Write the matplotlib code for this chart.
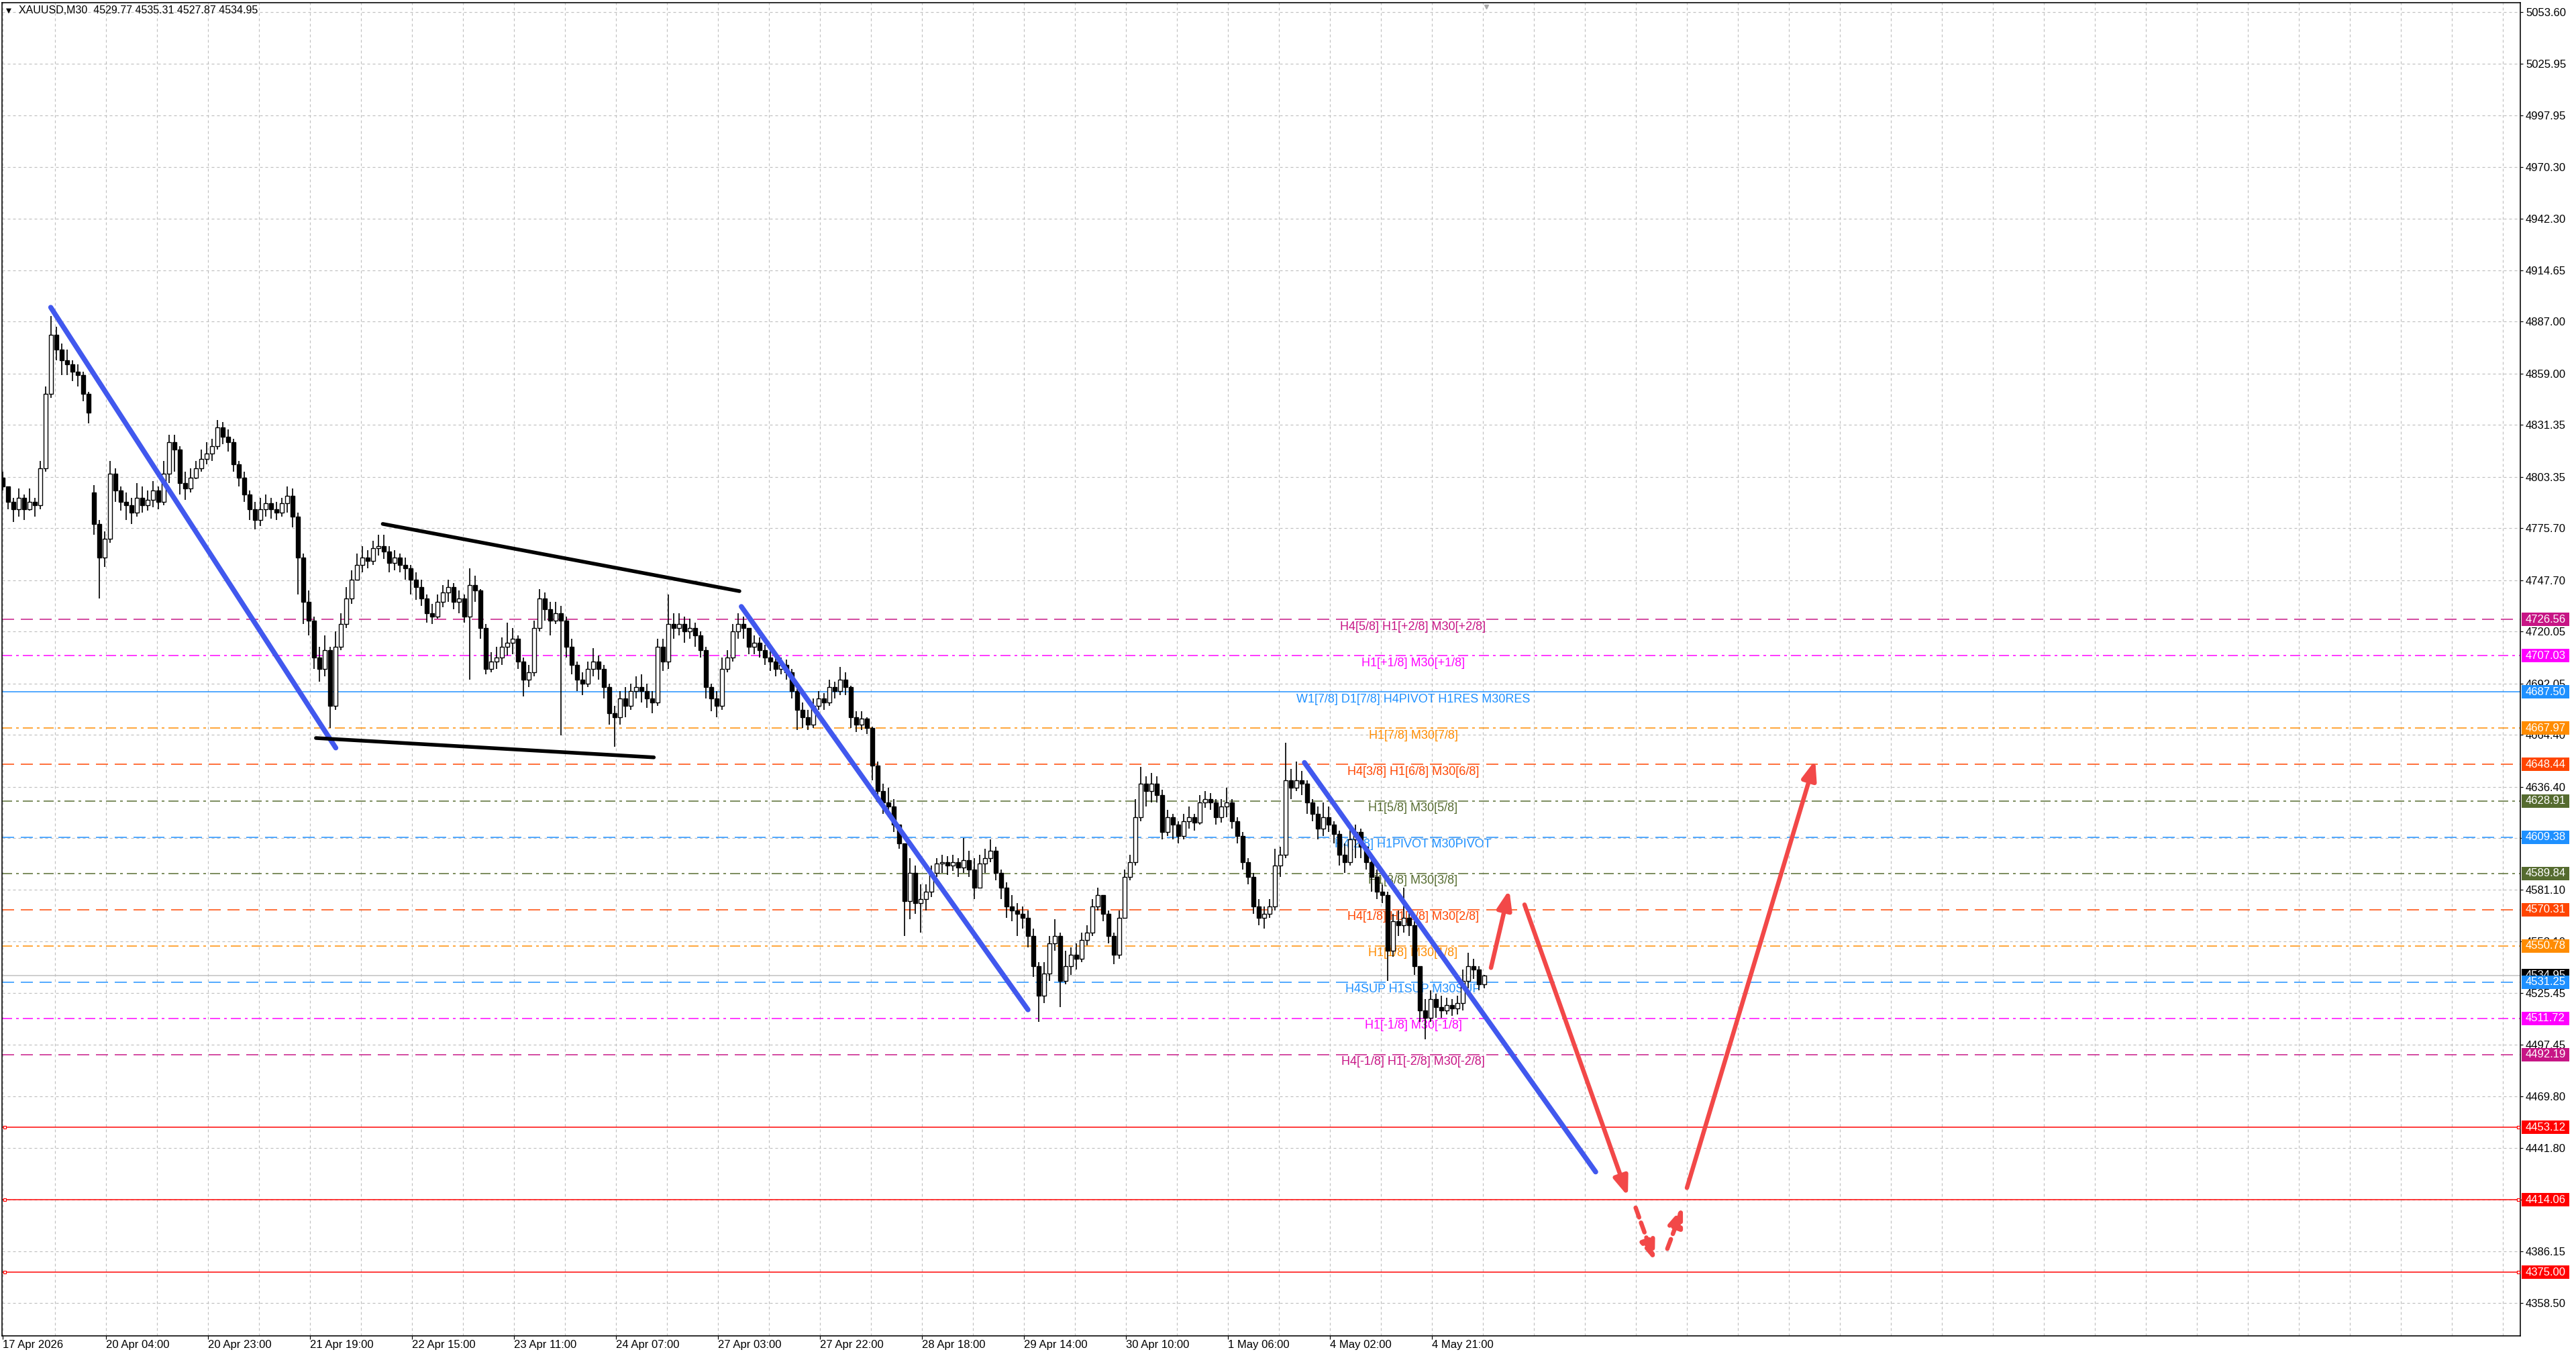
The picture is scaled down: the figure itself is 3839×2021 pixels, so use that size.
import matplotlib
matplotlib.use("Agg")
import matplotlib.pyplot as plt
from matplotlib.patches import Rectangle
from matplotlib.transforms import blended_transform_factory
import numpy as np

W, H, DPI = 3839, 2021, 100
PX = 72.0 / DPI  # points per pixel

plt.rcParams['font.family'] = ['Liberation Sans', 'DejaVu Sans']
plt.rcParams['lines.scale_dashes'] = False

# XAUUSD candles (one per hour)
closes = [4798, 4790, 4786, 4792, 4786, 4790, 4788, 4808, 4848, 4880,
          4872, 4866, 4864, 4860, 4858, 4848, 4838, 4778, 4760, 4770,
          4805, 4796, 4790, 4788, 4784, 4792, 4788, 4791, 4796, 4790,
          4805, 4822, 4818, 4800, 4797, 4803, 4808, 4813, 4816, 4820,
          4830, 4825, 4822, 4810, 4803, 4794, 4786, 4780, 4786, 4789,
          4786, 4784, 4789, 4793, 4782, 4760, 4736, 4726, 4706, 4700,
          4710, 4680, 4712, 4724, 4738, 4748, 4756, 4760, 4758, 4765,
          4766, 4763, 4757, 4760, 4756, 4754, 4748, 4744, 4738, 4730,
          4728, 4736, 4741, 4744, 4736, 4738, 4728, 4745, 4742, 4722,
          4700, 4704, 4706, 4712, 4714, 4716, 4704, 4694, 4698, 4722,
          4738, 4732, 4726, 4730, 4726, 4712, 4702, 4694, 4692, 4700,
          4704, 4700, 4690, 4676, 4674, 4684, 4680, 4688, 4690, 4688,
          4684, 4682, 4712, 4704, 4724, 4722, 4724, 4720, 4722, 4718,
          4710, 4690, 4684, 4680, 4700, 4706, 4720, 4724, 4722, 4712,
          4714, 4710, 4706, 4704, 4700, 4702, 4698, 4688, 4678, 4674,
          4670, 4680, 4684, 4682, 4690, 4688, 4694, 4690, 4674, 4670,
          4673, 4668, 4648, 4634, 4628, 4626, 4616, 4606, 4575, 4590,
          4574, 4576, 4580, 4590, 4595, 4596, 4594, 4596, 4593, 4597,
          4592, 4582, 4595, 4598, 4602, 4590, 4582, 4572, 4570, 4568,
          4566, 4556, 4540, 4524, 4536, 4552, 4556, 4532, 4540, 4546,
          4544, 4554, 4558, 4572, 4578, 4568, 4556, 4546, 4566, 4588,
          4596, 4620, 4638, 4634, 4638, 4632, 4612, 4620, 4616, 4610,
          4618, 4620, 4617, 4628, 4630, 4628, 4620, 4626, 4628, 4618,
          4610, 4596, 4588, 4572, 4566, 4568, 4572, 4594, 4600, 4640,
          4636, 4640, 4638, 4628, 4622, 4614, 4620, 4616, 4611, 4600,
          4596, 4608, 4612, 4604, 4596, 4588, 4580, 4578, 4548, 4564,
          4562, 4566, 4562, 4540, 4516, 4512, 4522, 4518, 4516, 4519,
          4517, 4520, 4532, 4540, 4538, 4530, 4534.95]
highs = [4806, 4798, 4792, 4797, 4794, 4797, 4792, 4812, 4852, 4890,
         4884, 4875, 4872, 4866, 4864, 4860, 4849, 4799, 4780, 4774,
         4812, 4808, 4798, 4795, 4792, 4800, 4798, 4796, 4801, 4798,
         4812, 4826, 4826, 4820, 4806, 4808, 4812, 4818, 4822, 4824,
         4834, 4833, 4829, 4824, 4812, 4806, 4796, 4790, 4792, 4794,
         4792, 4790, 4792, 4798, 4797, 4784, 4762, 4742, 4728, 4712,
         4718, 4712, 4720, 4730, 4744, 4753, 4762, 4766, 4764, 4769,
         4772, 4772, 4766, 4764, 4762, 4760, 4756, 4752, 4748, 4740,
         4735, 4740, 4745, 4748, 4746, 4742, 4740, 4754, 4750, 4743,
         4724, 4709, 4712, 4717, 4725, 4722, 4718, 4706, 4702, 4726,
         4743, 4741, 4736, 4736, 4734, 4728, 4716, 4704, 4698, 4704,
         4711, 4707, 4702, 4692, 4680, 4688, 4690, 4692, 4696, 4697,
         4692, 4688, 4716, 4716, 4740, 4730, 4730, 4728, 4727, 4725,
         4720, 4712, 4692, 4688, 4706, 4710, 4724, 4730, 4728, 4722,
         4718, 4717, 4713, 4710, 4707, 4706, 4705, 4700, 4690, 4682,
         4678, 4684, 4688, 4687, 4694, 4693, 4701, 4698, 4691, 4677,
         4677, 4674, 4669, 4650, 4638, 4636, 4630, 4616, 4606, 4598,
         4594, 4584, 4584, 4594, 4598, 4600, 4599, 4600, 4598, 4609,
         4602, 4598, 4600, 4603, 4608, 4604, 4592, 4585, 4578, 4574,
         4572, 4570, 4560, 4542, 4542, 4556, 4565, 4558, 4548, 4550,
         4552, 4558, 4562, 4576, 4582, 4578, 4570, 4558, 4570, 4592,
         4600, 4630, 4647, 4642, 4644, 4642, 4635, 4624, 4622, 4618,
         4622, 4626, 4622, 4632, 4634, 4633, 4630, 4630, 4636, 4630,
         4620, 4612, 4598, 4590, 4576, 4572, 4576, 4603, 4604, 4660,
         4646, 4650, 4645, 4640, 4630, 4626, 4628, 4626, 4618, 4613,
         4606, 4615, 4616, 4614, 4604, 4598, 4592, 4584, 4580, 4568,
         4570, 4582, 4570, 4564, 4540, 4522, 4527, 4525, 4524, 4523,
         4522, 4524, 4538, 4547, 4544, 4540, 4535.31]
lows = [4796, 4786, 4779, 4782, 4780, 4785, 4782, 4786, 4806, 4846,
        4866, 4858, 4858, 4855, 4852, 4844, 4832, 4772, 4738, 4755,
        4768, 4790, 4785, 4780, 4778, 4782, 4784, 4785, 4787, 4786,
        4788, 4800, 4806, 4794, 4791, 4795, 4802, 4806, 4810, 4812,
        4818, 4821, 4817, 4806, 4798, 4790, 4780, 4775, 4777, 4782,
        4781, 4780, 4782, 4784, 4776, 4740, 4724, 4718, 4700, 4693,
        4696, 4668, 4678, 4710, 4722, 4735, 4748, 4752, 4754, 4756,
        4761, 4759, 4752, 4753, 4752, 4748, 4740, 4737, 4734, 4725,
        4724, 4727, 4733, 4736, 4732, 4730, 4725, 4694, 4736, 4716,
        4697, 4698, 4700, 4702, 4707, 4708, 4700, 4685, 4690, 4696,
        4720, 4726, 4718, 4724, 4664, 4706, 4697, 4688, 4686, 4690,
        4696, 4694, 4684, 4670, 4658, 4670, 4674, 4678, 4684, 4682,
        4679, 4676, 4680, 4699, 4700, 4716, 4718, 4714, 4716, 4712,
        4706, 4684, 4677, 4674, 4678, 4698, 4704, 4716, 4716, 4708,
        4708, 4706, 4702, 4699, 4696, 4697, 4694, 4684, 4667, 4668,
        4667, 4668, 4678, 4678, 4680, 4684, 4686, 4686, 4668, 4666,
        4667, 4665, 4640, 4628, 4622, 4620, 4612, 4603, 4556, 4565,
        4568, 4558, 4570, 4577, 4588, 4590, 4589, 4591, 4588, 4590,
        4588, 4576, 4582, 4590, 4596, 4586, 4576, 4566, 4564, 4556,
        4560, 4550, 4534, 4510, 4520, 4532, 4548, 4518, 4530, 4535,
        4538, 4542, 4551, 4556, 4570, 4564, 4552, 4541, 4544, 4566,
        4586, 4594, 4618, 4626, 4628, 4628, 4608, 4610, 4608, 4606,
        4608, 4614, 4613, 4616, 4625, 4624, 4616, 4617, 4620, 4614,
        4606, 4592, 4584, 4568, 4562, 4560, 4566, 4570, 4588, 4598,
        4630, 4634, 4632, 4622, 4618, 4608, 4610, 4612, 4606, 4594,
        4590, 4594, 4598, 4598, 4592, 4580, 4576, 4574, 4532, 4545,
        4556, 4558, 4556, 4535, 4510, 4500.6, 4510, 4512, 4512, 4514,
        4513, 4514, 4516, 4528, 4533, 4527, 4527.87]
first_open = 4803.0
weekend_opens = {17: 4795.0}

price_ticks = [5053.60, 5025.95, 4997.95, 4970.30, 4942.30, 4914.65, 4887.00,
               4859.00, 4831.35, 4803.35, 4775.70, 4747.70, 4720.05, 4692.05,
               4664.40, 4636.40, 4608.75, 4581.10, 4553.10, 4525.45, 4497.45,
               4469.80, 4441.80, 4414.15, 4386.15, 4358.50]
time_labels = ['17 Apr 2026', '20 Apr 04:00', '20 Apr 23:00', '21 Apr 19:00',
               '22 Apr 15:00', '23 Apr 11:00', '24 Apr 07:00', '27 Apr 03:00',
               '27 Apr 22:00', '28 Apr 18:00', '29 Apr 14:00', '30 Apr 10:00',
               '1 May 06:00', '4 May 02:00', '4 May 21:00']

level_prices = [4726.56, 4707.03, 4687.50, 4667.97, 4648.44, 4628.91, 4609.38,
                4589.84, 4570.31, 4550.78, 4531.25, 4511.72, 4492.19]
level_names = ['H4[5/8] H1[+2/8] M30[+2/8]', 'H1[+1/8] M30[+1/8]',
               'W1[7/8] D1[7/8] H4PIVOT H1RES M30RES', 'H1[7/8] M30[7/8]',
               'H4[3/8] H1[6/8] M30[6/8]', 'H1[5/8] M30[5/8]',
               'H4[2/8] H1PIVOT M30PIVOT', 'H1[3/8] M30[3/8]',
               'H4[1/8] H1[2/8] M30[2/8]', 'H1[1/8] M30[1/8]',
               'H4SUP H1SUP M30SUP', 'H1[-1/8] M30[-1/8]',
               'H4[-1/8] H1[-2/8] M30[-2/8]']
level_colors = ['#C71585', '#FF00FF', '#1E90FF', '#FF8C00', '#FF4500', '#556B2F',
                '#1E90FF', '#556B2F', '#FF4500', '#FF8C00', '#1E90FF', '#FF00FF',
                '#C71585']
level_kinds = ['dash', 'dashdot', 'solid', 'dashdot', 'dash', 'dashdot', 'dash',
               'dashdot', 'dash', 'dashdot', 'dash', 'dashdot', 'dash']
red_levels = [4453.12, 4414.06, 4375.00]
last_price = 4534.95

# hand drawn objects: (bar, price) pairs
blue_lines = [((18.9, 4894.6), (125.1, 4657.4)),
              ((276.2, 4733.5), (383.0, 4516.4)),
              ((486.0, 4649.5), (594.5, 4429.1))]
black_lines = [((142.6, 4778.0), (275.5, 4741.8)),
               ((117.7, 4662.7), (243.6, 4652.3))]
red_arrows = [((555.5, 4539.0), (562.3, 4581.0)),
              ((568.0, 4573.0), (606.5, 4416.0)),
              ((628.5, 4420.5), (676.3, 4650.8))]
red_dashed_arrows = [((609.4, 4409.8), (616.5, 4381.2)),
                     ((621.2, 4387.7), (627.0, 4410.2))]

# ---------------------------------------------------------------------------
fig = plt.figure(figsize=(W / DPI, H / DPI), dpi=DPI, facecolor='white')
ax = fig.add_axes([3 / W, 1 - 1991 / H, 3753 / W, 1987 / H])
ax.set_facecolor('white')
ax.set_xlim(3 / 4, 3756 / 4)
ax.set_ylim(4340.8, 5058.66)

grid_kw = dict(color='#C0C0C0', lw=1.2 * PX, linestyle=(0, (4 * PX, 4 * PX)))
ax.set_yticks(price_ticks)
ax.set_yticklabels([f"{t:.2f}" for t in price_ticks])
ax.yaxis.tick_right()
ax.tick_params(axis='y', direction='out', length=4 * PX, width=1.2 * PX,
               pad=4 * PX, labelsize=12, colors='black')
tick_pos = [0.9] + [39.4 + 38 * k for k in range(14)]
ax.set_xticks(tick_pos)
ax.set_xticklabels(time_labels, ha='left')
ax.set_xticks([20.4 + 19 * k for k in range(49)], minor=True)
ax.tick_params(axis='x', which='major', direction='out', length=5 * PX,
               width=1.2 * PX, pad=1, labelsize=12)
ax.tick_params(axis='x', which='minor', length=0)
ax.grid(True, axis='y', which='major', **grid_kw)
ax.grid(True, axis='x', which='both', **grid_kw)
ax.set_axisbelow(True)
for sp in ax.spines.values():
    sp.set_color('black')
    sp.set_linewidth(1.6 * PX)

# level lines and labels
DASH = (0, (18 * PX, 10 * PX))
DASHDOT = (0, (15 * PX, 6 * PX, 4 * PX, 6 * PX))
for p, name, col, kind in zip(level_prices, level_names, level_colors, level_kinds):
    ls = {'dash': DASH, 'dashdot': DASHDOT, 'solid': '-'}[kind]
    ax.axhline(p, color=col, lw=1.5 * PX, linestyle=ls, zorder=2)
    ax.text(526.5, p - 0.9, name, color=col, fontsize=13, ha='center', va='top',
            zorder=2.5)

ax.axhline(last_price, color='#C0C0C0', lw=1.5 * PX, zorder=2)
for p in red_levels:
    ax.axhline(p, color='#FF0000', lw=1.5 * PX, zorder=2)
    ax.plot([1.75, 938.3], [p, p], ls='none', marker='s', ms=5 * PX,
            mfc='white', mec='#FF0000', mew=1.2 * PX, zorder=2.6, clip_on=False)

# candles
n = len(closes)
opens = np.array([first_open] + closes[:-1], dtype=float)
for i, o in weekend_opens.items():
    opens[i] = o
c = np.array(closes, dtype=float)
hi = np.maximum(np.array(highs, dtype=float), np.maximum(opens, c))
lo = np.minimum(np.array(lows, dtype=float), np.minimum(opens, c))
xs = 2 * np.arange(n) + 1.0
ax.vlines(xs, lo, hi, color='black', lw=1.7 * PX, zorder=4)
body_lo = np.minimum(opens, c)
body_h = np.maximum(np.abs(c - opens), 0.35)
faces = ['white' if cc >= oo else 'black' for oo, cc in zip(opens, c)]
ax.bar(xs, body_h, bottom=body_lo, width=1.45, color=faces, edgecolor='black',
       linewidth=1.4 * PX, zorder=5)

# drawn trend lines
for (x0, y0), (x1, y1) in blue_lines:
    ax.plot([x0, x1], [y0, y1], color='#4158EE', lw=7.5 * PX,
            solid_capstyle='round', zorder=7)
for (x0, y0), (x1, y1) in black_lines:
    ax.plot([x0, x1], [y0, y1], color='black', lw=5.5 * PX,
            solid_capstyle='round', zorder=7)

RED = '#F24848'
for (x0, y0), (x1, y1) in red_arrows:
    ax.annotate('', xy=(x1, y1), xytext=(x0, y0), zorder=8,
                arrowprops=dict(arrowstyle='-|>,head_length=0.85,head_width=0.32',
                                mutation_scale=20, lw=6.5 * PX, color=RED,
                                shrinkA=0, shrinkB=0, capstyle='round'))
for (x0, y0), (x1, y1) in red_dashed_arrows:
    ax.annotate('', xy=(x1, y1), xytext=(x0, y0), zorder=8,
                arrowprops=dict(arrowstyle='-|>,head_length=0.85,head_width=0.32',
                                mutation_scale=20, lw=6.5 * PX, color=RED,
                                linestyle=(0, (11, 6)), shrinkA=0, shrinkB=0))

# right side price boxes
trans = blended_transform_factory(ax.transAxes, ax.transData)
axw = 3753.0
box_h = 20 / 2.768


def price_box(p, col, z):
    ax.add_patch(Rectangle((1 + 2 / axw, p - box_h / 2), 71 / axw, box_h,
                           transform=trans, fc=col, ec='none', clip_on=False,
                           zorder=z))
    ax.text(1 + 8 / axw, p, f"{p:.2f}", transform=trans, color='white',
            fontsize=12, ha='left', va='center', clip_on=False, zorder=z + 0.5)


price_box(last_price, 'black', 10)
for p, col in zip(level_prices, level_colors):
    price_box(p, col, 12)
for p in red_levels:
    price_box(p, '#FF0000', 12)

# chart shift marker and header
ax.plot([553.8], [5058.66 - 2.0], marker='v', ms=6 * PX, color='#A8A8A8',
        ls='none', clip_on=False, zorder=9)
fig.text(9 / W, 1 - 16 / H, '\u25BC', fontsize=7.5, ha='left', va='center',
         family=['DejaVu Sans'])
fig.text(28 / W, 1 - 16 / H, 'XAUUSD,M30  4529.77 4535.31 4527.87 4534.95',
         fontsize=11.5, ha='left', va='center', color='black')

fig.savefig('out.png', dpi=DPI, facecolor='white')
